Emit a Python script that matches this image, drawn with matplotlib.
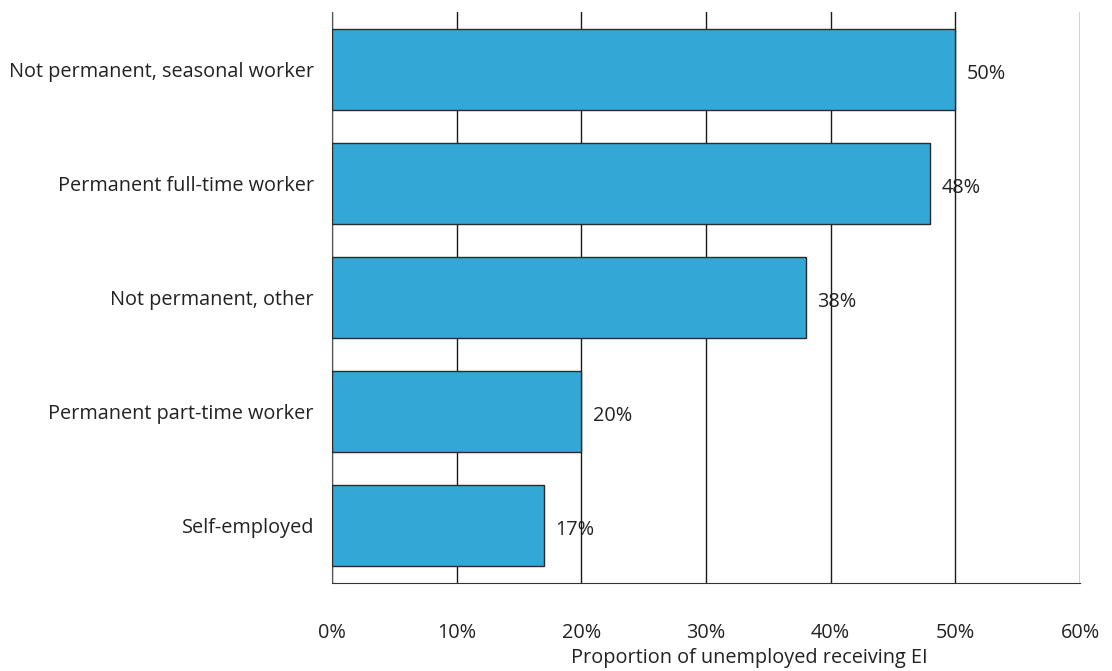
import matplotlib
matplotlib.use("Agg")
import matplotlib.pyplot as plt

categories = [
    "Self-employed",
    "Permanent part-time worker",
    "Not permanent, other",
    "Permanent full-time worker",
    "Not permanent, seasonal worker",
]
shares = [17, 20, 38, 48, 50]
ticks = [0, 10, 20, 30, 40, 50, 60]
tick_labels = [f"{t}%" for t in ticks]

plt.rcParams["font.family"] = ["Open Sans", "DejaVu Sans"]
text_color = "#222222"
fs = 14.3

fig = plt.figure(figsize=(11.12, 6.71), dpi=100)
ax = fig.add_axes([332 / 1112, 1 - 583 / 671, (1080 - 332) / 1112, (583 - 12) / 671])

ypos = list(range(len(categories)))
ax.barh(ypos, shares, height=0.71, color="#33a7d6", edgecolor="#2b2b2b",
        linewidth=1.0, zorder=3)

# value labels just past each bar end
for y, v in zip(ypos, shares):
    ax.text(v + 0.9, y - 0.04, f"{v}%", va="center", ha="left", fontsize=fs,
            color=text_color, zorder=4)

ax.set_xlim(0, 60)
ax.set_ylim(-0.5, 4.5)
ax.set_xticks(ticks)
ax.set_xticklabels(tick_labels, fontsize=fs, color=text_color)
ax.set_yticks(ypos)
ax.set_yticklabels(categories, fontsize=fs, color=text_color)
ax.tick_params(axis="both", length=0)
ax.tick_params(axis="x", pad=29)
ax.tick_params(axis="y", pad=13)

ax.xaxis.grid(True, color="#1a1a1a", linewidth=1.0, zorder=0)
ax.set_axisbelow(True)
for side in ("top", "right"):
    ax.spines[side].set_visible(False)
ax.spines["left"].set_color("#555555")
ax.spines["bottom"].set_color("#333333")

fig.text(749 / 1112, 1 - 658 / 671, "Proportion of unemployed receiving EI",
         ha="center", va="center", fontsize=fs, color=text_color)

fig.savefig("out.png", dpi=100)
